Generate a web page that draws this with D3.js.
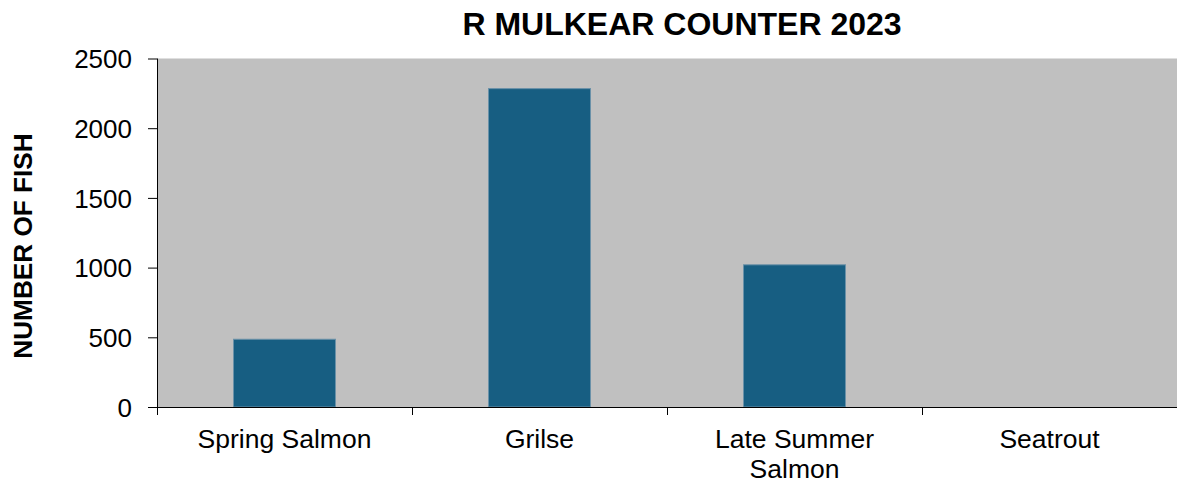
<!DOCTYPE html>
<html>
<head>
<meta charset="utf-8">
<script src="https://cdn.jsdelivr.net/npm/d3@7"></script>
<style>
  html, body { margin: 0; padding: 0; background: #fff; }
  svg { display: block; }
  text { font-family: Arial, "Liberation Sans", sans-serif; fill: #000; }
</style>
</head>
<body>
<svg id="chart" width="1177" height="483"></svg>
<script>
const categories = ["Spring Salmon", "Grilse", "Late Summer Salmon", "Seatrout"];
const categoryLines = [["Spring Salmon"], ["Grilse"], ["Late Summer", "Salmon"], ["Seatrout"]];
const fishCounts = [486, 2284, 1020, 0];
const yTicks = [0, 500, 1000, 1500, 2000, 2500];
const titleText = "R MULKEAR COUNTER 2023";
const yLabelText = "NUMBER OF FISH";

const svg = d3.select("#chart");
const margin = { left: 157, right: 0, top: 58.5, bottom: 76 };
const W = 1177, H = 483;
const innerW = W - margin.left - margin.right;
const innerH = 407 - margin.top;

const x = d3.scaleBand().domain(categories).range([0, innerW]).paddingInner(0.6).paddingOuter(0.3);
const xEdge = d3.scaleBand().domain(categories).range([0, innerW]);
const y = d3.scaleLinear().domain([0, 2500]).range([innerH, 0]);

const g = svg.append("g").attr("transform", `translate(${margin.left},${margin.top})`);

g.append("rect").attr("x", 0).attr("y", 0).attr("width", innerW).attr("height", innerH).attr("fill", "#c0c0c0");

g.selectAll("rect.bar").data(fishCounts).join("rect")
  .attr("class", "bar")
  .attr("x", (d, i) => x(categories[i]))
  .attr("y", d => y(d))
  .attr("width", x.bandwidth())
  .attr("height", d => innerH - y(d))
  .attr("fill", "#175e82")
  .attr("stroke", d => d > 0 ? "#6a91a8" : "none")
  .attr("stroke-width", 1);

// Y axis
const yAxis = d3.axisLeft(y).tickValues(yTicks).tickSize(9).tickPadding(16).tickFormat(d3.format("d"));
const ya = g.append("g").call(yAxis);
ya.select(".domain").remove();
ya.selectAll("text").attr("font-size", 26).attr("dy", "0.36em").style("font-family", "Arial, 'Liberation Sans', sans-serif");
ya.selectAll("line").attr("stroke", "#000");
g.append("line").attr("x1", 0.5).attr("x2", 0.5).attr("y1", 0).attr("y2", innerH + 8).attr("stroke", "#000");

// X axis baseline and boundary ticks
g.append("line").attr("x1", 0).attr("x2", innerW).attr("y1", innerH + 0.5).attr("y2", innerH + 0.5).attr("stroke", "#000");
g.selectAll("line.xtick").data(categories.slice(1)).join("line")
  .attr("class", "xtick")
  .attr("x1", d => Math.round(xEdge(d)) + 0.5).attr("x2", d => Math.round(xEdge(d)) + 0.5)
  .attr("y1", innerH).attr("y2", innerH + 8).attr("stroke", "#000");

// Category labels
const labels = g.selectAll("text.cat").data(categoryLines).join("text")
  .attr("class", "cat")
  .attr("text-anchor", "middle")
  .attr("font-size", 26.5)
  .attr("transform", (d, i) => `translate(${xEdge(categories[i]) + xEdge.bandwidth() / 2},${innerH + 41})`);
labels.selectAll("tspan").data(d => d).join("tspan")
  .attr("x", 0).attr("dy", (d, i) => i === 0 ? 0 : 30).text(d => d);

// Title
svg.append("text").attr("x", 682).attr("y", 35).attr("text-anchor", "middle")
  .attr("font-size", 32).attr("font-weight", "bold").text(titleText);

// Y label
svg.append("text").attr("transform", "translate(32,246) rotate(-90)").attr("text-anchor", "middle")
  .attr("font-size", 26.2).attr("font-weight", "bold").text(yLabelText);
</script>
</body>
</html>
